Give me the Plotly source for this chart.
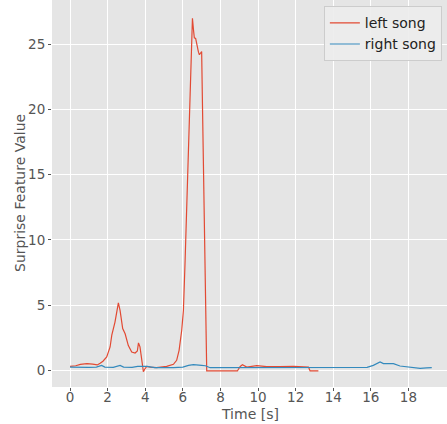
import plotly.graph_objects as go

left_x = [0.0, 0.3, 0.55, 0.9, 1.2, 1.45, 1.6, 1.75, 1.95, 2.13, 2.22, 2.39, 2.5, 2.57, 2.66, 2.8, 2.93,
          3.1, 3.28, 3.46, 3.58, 3.64, 3.72, 3.81, 3.9, 3.98, 4.08, 4.26, 4.6, 5.14, 5.5, 5.67, 5.8,
          5.94, 6.03, 6.12, 6.22, 6.33, 6.42, 6.51, 6.56, 6.61, 6.68, 6.74, 6.83, 6.88, 6.95, 7.0,
          7.04, 7.13, 7.27, 8.9, 9.05, 9.17, 9.4, 9.93, 10.46, 11.17, 11.88, 12.68, 12.77, 13.21]
left_y = [0.3, 0.35, 0.46, 0.51, 0.48, 0.41, 0.55, 0.7, 1.02, 1.79, 2.69, 3.7, 4.6, 5.17, 4.6, 3.2, 2.8,
          1.9, 1.4, 1.33, 1.48, 2.1, 1.8, 0.77, -0.1, 0.1, 0.3, 0.25, 0.2, 0.3, 0.46, 0.77, 1.53,
          3.07, 4.6, 8.4, 13.0, 17.65, 22.5, 27.0, 26.2, 25.5, 25.45, 24.9, 24.4, 24.2, 24.3, 24.45,
          20.7, 13.0, -0.05, -0.05, 0.3, 0.43, 0.25, 0.36, 0.28, 0.28, 0.31, 0.25, -0.05, -0.05]

right_x = [0.0, 0.5, 1.0, 1.4, 1.68, 1.85, 2.3, 2.66, 2.85, 3.3, 3.6, 4.1, 4.5, 5.5, 6.0, 6.3, 6.56,
           7.0, 7.2, 7.45, 8.5, 9.2, 10.0, 12.0, 14.0, 15.8, 16.13, 16.49, 16.67, 17.2, 17.55,
           18.09, 18.62, 18.97, 19.24]
right_y = [0.25, 0.22, 0.22, 0.25, 0.38, 0.25, 0.22, 0.38, 0.25, 0.22, 0.3, 0.3, 0.2, 0.2, 0.25, 0.38,
           0.43, 0.38, 0.35, 0.2, 0.2, 0.25, 0.2, 0.2, 0.2, 0.22, 0.38, 0.64, 0.51, 0.51, 0.33,
           0.25, 0.15, 0.18, 0.2]

x_ticks = [0, 2, 4, 6, 8, 10, 12, 14, 16, 18]
y_ticks = [0, 5, 10, 15, 20, 25]
x_title = "Time [s]"
y_title = "Surprise Feature Value"

FONT = "DejaVu Sans"

fig = go.Figure()
fig.add_trace(go.Scatter(x=left_x, y=left_y, mode="lines", name="left song",
                         line=dict(color="#E24A33", width=1.2)))
fig.add_trace(go.Scatter(x=right_x, y=right_y, mode="lines", name="right song",
                         line=dict(color="#348ABD", width=1.2)))

axis_common = dict(
    showgrid=True, gridcolor="white", gridwidth=1.2, zeroline=False,
    showline=False, ticks="outside", ticklen=3, tickcolor="#555555",
    tickfont=dict(family=FONT, size=13.5, color="#555555"),
)

fig.update_layout(
    width=447, height=424,
    margin=dict(l=52, r=0, t=0, b=37),
    paper_bgcolor="white", plot_bgcolor="#E5E5E5",
    font=dict(family=FONT, color="#555555"),
    xaxis=dict(range=[-0.96, 20.05], tickvals=x_ticks, ticklabelstandoff=-5, **axis_common),
    yaxis=dict(range=[-1.28, 28.4], tickvals=y_ticks, **axis_common),
    legend=dict(x=0.987, y=0.984, xanchor="right", yanchor="top",
                bgcolor="rgba(236,236,236,0.9)", bordercolor="#CCCCCC", borderwidth=1,
                font=dict(family=FONT, size=14, color="#222222"), tracegroupgap=0),
    showlegend=True,
    annotations=[
        dict(text=x_title, xref="paper", yref="paper", x=(250 - 52) / 395, y=(387 - 414) / 387,
             xanchor="center", yanchor="middle", showarrow=False,
             font=dict(family=FONT, size=14, color="#555555")),
        dict(text=y_title, xref="paper", yref="paper", x=(20 - 52) / 395, y=(387 - 193) / 387,
             xanchor="center", yanchor="middle", showarrow=False, textangle=-90,
             font=dict(family=FONT, size=14, color="#555555")),
    ],
)

fig.write_html("out.html", config={"displayModeBar": False},
               post_script="document.body.style.margin='0';document.body.style.overflow='hidden';")
